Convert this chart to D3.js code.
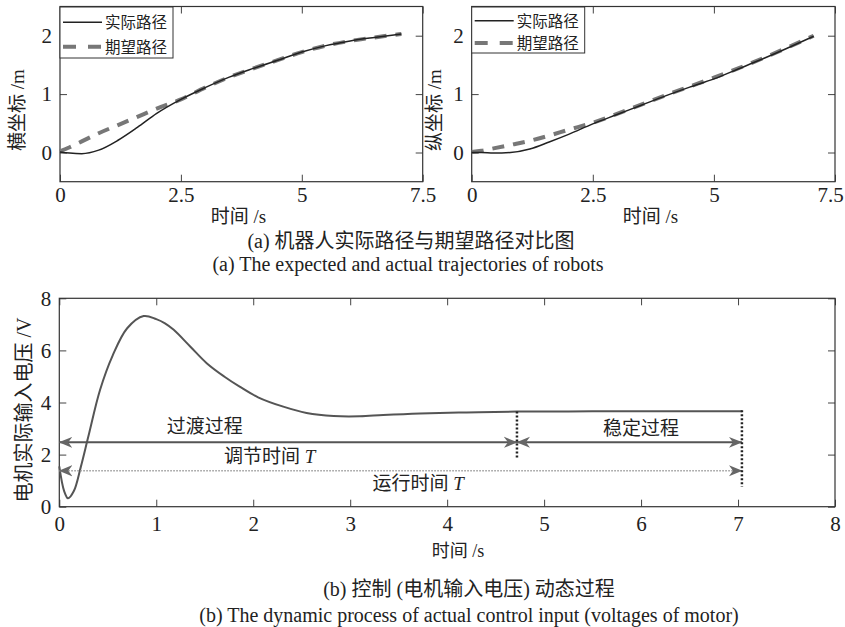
<!DOCTYPE html>
<html>
<head>
<meta charset="utf-8">
<script src="https://cdn.jsdelivr.net/npm/d3@7"></script>
<style>
  body { margin: 0; background: #fff; }
  svg { display: block; }
  text { font-family: "Liberation Serif", "Times New Roman", "Noto Sans CJK SC", serif; fill: #222; }
  .tick text { font-size: 21px; }
  .tick line { stroke: #444; }
</style>
</head>
<body>
<div id="viz"></div>
<script>
// sampled time axis for the two trajectory plots (s)
const tPath = [0, 0.2, 0.45, 0.8, 1.2, 1.6, 2.0, 2.5, 3.0, 3.5, 4.0, 4.5, 5.0, 5.5, 6.0, 6.5, 7.06]
// (a) left: horizontal coordinate (m)
const xActual = [0.01, -0.01, -0.02, 0.04, 0.21, 0.43, 0.67, 0.91, 1.11, 1.29, 1.44, 1.58, 1.72, 1.83, 1.91, 1.97, 2.03]
const xExpected = [0.02, 0.09, 0.19, 0.33, 0.47, 0.61, 0.75, 0.91, 1.11, 1.29, 1.44, 1.58, 1.72, 1.83, 1.91, 1.97, 2.03]
// (a) right: vertical coordinate (m)
const yActual = [0.0, 0.0, -0.01, 0.0, 0.06, 0.18, 0.31, 0.49, 0.65, 0.81, 0.97, 1.12, 1.26, 1.43, 1.60, 1.78, 1.99]
const yExpected = [0.01, 0.03, 0.07, 0.13, 0.2, 0.29, 0.39, 0.51, 0.66, 0.82, 0.98, 1.13, 1.28, 1.44, 1.61, 1.79, 2.0]

// (b) motor input voltage (V)
const tVolt = [0, 0.05, 0.09, 0.15, 0.22, 0.3, 0.42, 0.55, 0.7, 0.87, 1.0, 1.09, 1.18, 1.35, 1.52, 1.7, 1.86, 2.05, 2.31, 2.55, 2.83, 3.1, 3.34, 3.72, 4.2, 4.72, 5.5, 6.3, 7.04]
const volt = [1.55, 0.6, 0.32, 0.6, 1.5, 2.7, 4.48, 5.8, 6.85, 7.32, 7.2, 7.04, 6.79, 6.15, 5.51, 5.0, 4.61, 4.2, 3.84, 3.6, 3.48, 3.47, 3.52, 3.58, 3.62, 3.65, 3.66, 3.66, 3.66]
const tSettle = 4.72
const tRun = 7.04
const levelSettle = 2.47
const levelRun = 1.38

const pathTicksX = [0, 2.5, 5, 7.5]
const pathTicksY = [0, 1, 2]
const voltTicksX = [0, 1, 2, 3, 4, 5, 6, 7, 8]
const voltTicksY = [0, 2, 4, 6, 8]

const legendNames = ['实际路径', '期望路径']

const svg = d3.select('#viz')
  .append('svg')
  .attr('width', 845)
  .attr('height', 627)

svg.append('rect').attr('width', 845).attr('height', 627).attr('fill', '#fff')

const defs = svg.append('defs')
defs.append('marker')
  .attr('id', 'arrow')
  .attr('markerUnits', 'userSpaceOnUse')
  .attr('viewBox', '0 0 14 12')
  .attr('markerWidth', 14)
  .attr('markerHeight', 12)
  .attr('refX', 13)
  .attr('refY', 6)
  .attr('orient', 'auto-start-reverse')
  .append('path')
  .attr('d', 'M0,0.5 L13.5,6 L0,11.5 L4,6 Z')
  .attr('fill', '#666')

const fmt = d => String(d)

/**
 * Draws a boxed MATLAB-like frame with inward ticks on all four sides.
 * Returns the bottom axis selection.
 */
function drawFrame (g, x, y, ticksX, ticksY, padX, padY) {
  const [x0, x1] = x.range()
  const [y0, y1] = y.range()

  const bottom = g.append('g')
    .attr('transform', `translate(0, ${y0})`)
    .call(d3.axisBottom(x).tickValues(ticksX).tickSize(-7).tickPadding(padX).tickFormat(fmt))
    .call(a => a.select('.domain').remove())
  g.append('g')
    .attr('transform', `translate(0, ${y1})`)
    .call(d3.axisTop(x).tickValues(ticksX).tickSize(-7).tickFormat(''))
    .call(a => a.select('.domain').remove())
  g.append('g')
    .attr('transform', `translate(${x0}, 0)`)
    .call(d3.axisLeft(y).tickValues(ticksY).tickSize(-7).tickPadding(padY).tickFormat(fmt))
    .call(a => a.select('.domain').remove())
  g.append('g')
    .attr('transform', `translate(${x1}, 0)`)
    .call(d3.axisRight(y).tickValues(ticksY).tickSize(-7).tickFormat(''))
    .call(a => a.select('.domain').remove())

  g.append('rect')
    .attr('x', x0)
    .attr('y', y1)
    .attr('width', x1 - x0)
    .attr('height', y0 - y1)
    .attr('fill', 'none')
    .attr('stroke', '#333')
    .attr('stroke-width', 1.2)
  return bottom
}

/**
 * Draws one trajectory panel of figure (a).
 */
function drawPathPanel (left, right, actual, expected, yLabel, labelX, legendH) {
  const g = svg.append('g')
  const x = d3.scaleLinear().domain([0, 7.5]).range([left, right])
  const y = d3.scaleLinear().domain([-0.5, 2.5]).range([181.7, 6.5])

  const bottom = drawFrame(g, x, y, pathTicksX, pathTicksY, 5, 8)
  // keep the last label inside the page edge
  if (right > 830) {
    bottom.selectAll('.tick text').filter(d => d === 7.5).attr('dx', -5)
  }

  const line = d3.line().curve(d3.curveMonotoneX)
  g.append('path')
    .attr('d', line(tPath.map((t, i) => [x(t), y(expected[i])])))
    .attr('fill', 'none')
    .attr('stroke', '#777')
    .attr('stroke-width', 4)
    .attr('stroke-dasharray', '12 9')
  g.append('path')
    .attr('d', line(tPath.map((t, i) => [x(t), y(actual[i])])))
    .attr('fill', 'none')
    .attr('stroke', '#222')
    .attr('stroke-width', 1.5)

  g.append('text')
    .text('时间 /s')
    .attr('x', (left + right) / 2 - 3)
    .attr('y', 223)
    .attr('text-anchor', 'middle')
    .attr('font-size', 19)

  g.append('text')
    .text(yLabel)
    .attr('transform', `translate(${labelX}, 110) rotate(-90)`)
    .attr('text-anchor', 'middle')
    .attr('font-size', 19)

  // legend
  const lg = g.append('g').attr('transform', `translate(${left}, 7)`)
  lg.append('rect')
    .attr('width', 113)
    .attr('height', legendH)
    .attr('fill', '#fff')
    .attr('stroke', '#333')
  const rowY = [legendH * 0.3, legendH * 0.78]
  lg.append('line')
    .attr('x1', 3).attr('x2', 42)
    .attr('y1', rowY[0]).attr('y2', rowY[0])
    .attr('stroke', '#222').attr('stroke-width', 1.5)
  lg.append('line')
    .attr('x1', 3).attr('x2', 42)
    .attr('y1', rowY[1]).attr('y2', rowY[1])
    .attr('stroke', '#777').attr('stroke-width', 4)
    .attr('stroke-dasharray', '13 12')
  legendNames.forEach((name, i) => {
    lg.append('text')
      .text(name)
      .attr('x', 45)
      .attr('y', rowY[i] + 6)
      .attr('font-size', 15.5)
  })
}

drawPathPanel(60, 422.7, xActual, xExpected, '横坐标 /m', 24, 51)
drawPathPanel(471.7, 835, yActual, yExpected, '纵坐标 /m', 441, 46)

svg.append('text')
  .text('(a) 机器人实际路径与期望路径对比图')
  .attr('x', 411).attr('y', 248)
  .attr('text-anchor', 'middle')
  .attr('font-size', 20)
svg.append('text')
  .text('(a) The expected and actual trajectories of robots')
  .attr('x', 408).attr('y', 271)
  .attr('text-anchor', 'middle')
  .attr('font-size', 20)

// figure (b)
const gb = svg.append('g')
const xb = d3.scaleLinear().domain([0, 8]).range([59.3, 835])
const yb = d3.scaleLinear().domain([0, 8]).range([506.7, 298.3])

drawFrame(gb, xb, yb, voltTicksX, voltTicksY, 9, 8)

gb.append('path')
  .attr('d', d3.line().curve(d3.curveCatmullRom)(tVolt.map((t, i) => [xb(t), yb(volt[i])])))
  .attr('fill', 'none')
  .attr('stroke', '#555')
  .attr('stroke-width', 2)

// transition / steady arrows
gb.append('line')
  .attr('x1', xb(0)).attr('x2', xb(tSettle))
  .attr('y1', yb(levelSettle)).attr('y2', yb(levelSettle))
  .attr('stroke', '#555').attr('stroke-width', 2)
  .attr('marker-start', 'url(#arrow)').attr('marker-end', 'url(#arrow)')
gb.append('line')
  .attr('x1', xb(tSettle)).attr('x2', xb(tRun))
  .attr('y1', yb(levelSettle)).attr('y2', yb(levelSettle))
  .attr('stroke', '#555').attr('stroke-width', 2)
  .attr('marker-start', 'url(#arrow)').attr('marker-end', 'url(#arrow)')
gb.append('line')
  .attr('x1', xb(0)).attr('x2', xb(tRun))
  .attr('y1', yb(levelRun)).attr('y2', yb(levelRun))
  .attr('stroke', '#999').attr('stroke-width', 1.5)
  .attr('stroke-dasharray', '1.5 1.5')
  .attr('marker-start', 'url(#arrow)').attr('marker-end', 'url(#arrow)')

// vertical dotted markers
gb.append('line')
  .attr('x1', xb(tSettle)).attr('x2', xb(tSettle))
  .attr('y1', yb(3.65)).attr('y2', yb(1.86))
  .attr('stroke', '#222').attr('stroke-width', 2.5)
  .attr('stroke-dasharray', '2 2')
gb.append('line')
  .attr('x1', xb(tRun)).attr('x2', xb(tRun))
  .attr('y1', yb(3.7)).attr('y2', yb(0.77))
  .attr('stroke', '#222').attr('stroke-width', 2.5)
  .attr('stroke-dasharray', '2 2')

gb.append('text').text('过渡过程')
  .attr('x', xb(1.5)).attr('y', yb(2.83))
  .attr('text-anchor', 'middle').attr('font-size', 19)
gb.append('text').text('稳定过程')
  .attr('x', xb(6.0)).attr('y', yb(2.77))
  .attr('text-anchor', 'middle').attr('font-size', 19)
const t1 = gb.append('text')
  .attr('x', xb(2.17)).attr('y', yb(1.68))
  .attr('text-anchor', 'middle').attr('font-size', 19)
t1.append('tspan').text('调节时间 ')
t1.append('tspan').text('T').attr('font-style', 'italic')
const t2 = gb.append('text')
  .attr('x', xb(3.7)).attr('y', yb(0.64))
  .attr('text-anchor', 'middle').attr('font-size', 19)
t2.append('tspan').text('运行时间 ')
t2.append('tspan').text('T').attr('font-style', 'italic')

gb.append('text')
  .text('电机实际输入电压 /V')
  .attr('transform', 'translate(31, 410) rotate(-90)')
  .attr('text-anchor', 'middle')
  .attr('font-size', 20)
gb.append('text')
  .text('时间 /s')
  .attr('x', 458).attr('y', 557)
  .attr('text-anchor', 'middle')
  .attr('font-size', 18)

svg.append('text')
  .text('(b) 控制 (电机输入电压) 动态过程')
  .attr('x', 469).attr('y', 596)
  .attr('text-anchor', 'middle')
  .attr('font-size', 20)
svg.append('text')
  .text('(b) The dynamic process of actual control input (voltages of motor)')
  .attr('x', 469).attr('y', 622)
  .attr('text-anchor', 'middle')
  .attr('font-size', 20)
</script>
</body>
</html>
